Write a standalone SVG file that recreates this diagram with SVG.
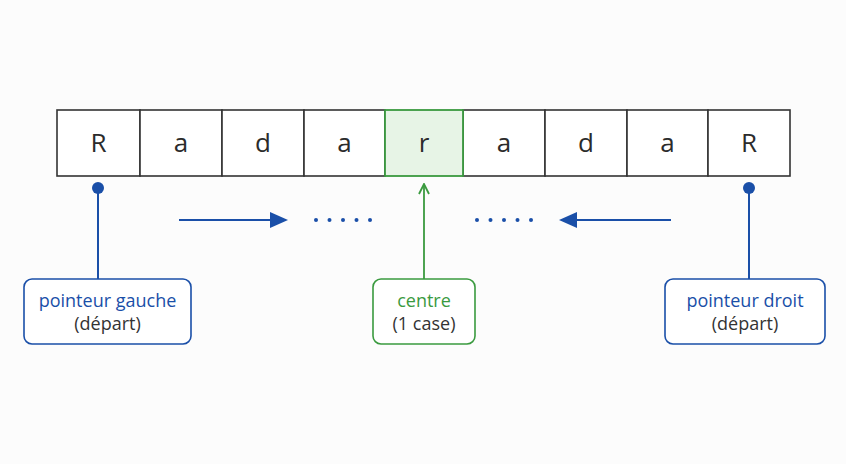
<svg xmlns="http://www.w3.org/2000/svg" width="846" height="464" viewBox="0 0 846 464">
<style>
.cell{fill:#fff;stroke:#333;stroke-width:1.6}
.ch{font-family:"Open Sans",sans-serif;font-size:26px;fill:#2b2b2b;text-anchor:middle}
.lb{font-family:"Open Sans",sans-serif;font-size:18px;text-anchor:middle}
.blue{stroke:#1a4fa8;stroke-width:2;fill:none}
.green{stroke:#3a9a3f;stroke-width:1.8;fill:none}
</style>
<defs>
<marker id="ag" markerWidth="12" markerHeight="12" refX="6" refY="1" orient="0" markerUnits="userSpaceOnUse"><path d="M1,11 L6,1 L11,11" fill="none" stroke="#3a9a3f" stroke-width="1.8"/></marker>
</defs>
<rect width="846" height="464" fill="#fcfcfc"/>
<g id="cells">
<rect class="cell" x="57" y="110" width="83" height="66"/>
<rect class="cell" x="140" y="110" width="82" height="66"/>
<rect class="cell" x="222" y="110" width="82" height="66"/>
<rect class="cell" x="304" y="110" width="81" height="66"/>
<rect class="cell" x="463" y="110" width="82" height="66"/>
<rect class="cell" x="545" y="110" width="82" height="66"/>
<rect class="cell" x="627" y="110" width="81" height="66"/>
<rect class="cell" x="708" y="110" width="82" height="66"/>
<rect x="385" y="110" width="78" height="66" fill="#e7f4e6" stroke="#3a9a3f" stroke-width="1.8"/>
<text class="ch" x="98.5" y="152">R</text>
<text class="ch" x="181" y="152">a</text>
<text class="ch" x="263" y="152">d</text>
<text class="ch" x="344.5" y="152">a</text>
<text class="ch" x="424" y="152">r</text>
<text class="ch" x="504" y="152">a</text>
<text class="ch" x="586" y="152">d</text>
<text class="ch" x="667.5" y="152">a</text>
<text class="ch" x="749" y="152">R</text>
</g>
<g id="connectors">
<circle cx="98" cy="188" r="6" fill="#1a4fa8"/>
<line class="blue" x1="98" y1="188" x2="98" y2="279"/>
<circle cx="749" cy="188" r="6" fill="#1a4fa8"/>
<line class="blue" x1="749" y1="188" x2="749" y2="279"/>
<line class="green" x1="424" y1="279" x2="424" y2="184" marker-end="url(#ag)"/>
<line class="blue" x1="179" y1="220" x2="272" y2="220"/>
<path d="M270,212 L288,220 L270,228z" fill="#1a4fa8"/>
<line class="blue" x1="671" y1="220" x2="576" y2="220"/>
<path d="M577,212 L559,220 L577,228z" fill="#1a4fa8"/>
<g fill="#1a4fa8">
<circle cx="316" cy="220" r="2"/><circle cx="329.5" cy="220" r="2"/><circle cx="343" cy="220" r="2"/><circle cx="356.5" cy="220" r="2"/><circle cx="370" cy="220" r="2"/>
<circle cx="477" cy="220" r="2"/><circle cx="490.5" cy="220" r="2"/><circle cx="504" cy="220" r="2"/><circle cx="517.5" cy="220" r="2"/><circle cx="531" cy="220" r="2"/>
</g>
</g>
<g id="left">
<rect x="24" y="279" width="167" height="65" rx="8" fill="#fff" stroke="#1a4fa8" stroke-width="1.6"/>
<text class="lb" x="107.5" y="307" fill="#1a4fa8">pointeur gauche</text>
<text class="lb" x="107.5" y="330" fill="#333">(départ)</text>
</g>
<g id="center">
<rect x="373" y="279" width="102" height="65" rx="8" fill="#fff" stroke="#3a9a3f" stroke-width="1.6"/>
<text class="lb" x="424" y="307" fill="#3a9a3f">centre</text>
<text class="lb" x="424" y="330" fill="#333">(1 case)</text>
</g>
<g id="right">
<rect x="665" y="279" width="160" height="65" rx="8" fill="#fff" stroke="#1a4fa8" stroke-width="1.6"/>
<text class="lb" x="745" y="307" fill="#1a4fa8">pointeur droit</text>
<text class="lb" x="745" y="330" fill="#333">(départ)</text>
</g>
</svg>
